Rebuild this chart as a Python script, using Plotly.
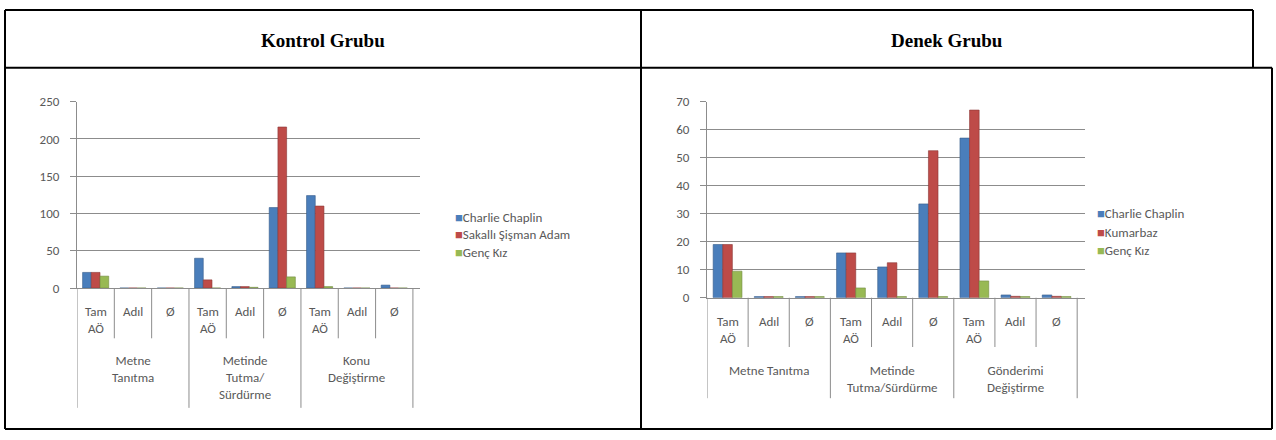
import plotly.graph_objects as go

# ---------------- data ----------------
subcats = ["Tam<br>AÖ", "Adıl", "Ø"]
groups_k = ["Metne<br>Tanıtma", "Metinde<br>Tutma/<br>Sürdürme", "Konu<br>Değiştirme"]
groups_d = ["Metne Tanıtma", "Metinde<br>Tutma/Sürdürme", "Gönderimi<br>Değiştirme"]

series_k = ["Charlie Chaplin", "Sakallı Şişman Adam", "Genç Kız"]
series_d = ["Charlie Chaplin", "Kumarbaz", "Genç Kız"]

k_cc = [21, 0, 0, 40, 2, 108, 124, 0, 4]
k_ssa = [21, 0, 0, 11, 2, 216, 110, 0, 0]
k_gk = [16, 0, 0, 0, 1, 15, 2, 0, 0]

d_cc = [19, 0.4, 0.4, 16, 11, 33.5, 57, 1, 1]
d_kb = [19, 0.4, 0.4, 16, 12.5, 52.5, 67, 0.5, 0.5]
d_gk = [9.5, 0.4, 0.4, 3.5, 0.4, 0.4, 6, 0.4, 0.4]

titles = ["Kontrol Grubu", "Denek Grubu"]
y_ranges = [[0, 250], [0, 70]]
y_dticks = [50, 10]

colors = ["#4A7EBB", "#BE4B48", "#98B954"]
edge = ["#385D8A", "#8C3836", "#71893F"]

W, H = 1276, 440
def PX(p):
    return p / W
def PY(p):
    return 1 - p / H

FONT = "Carlito, Calibri, Lato, sans-serif"
TXT = "#595959"
GRID = "#8c8c8c"

fig = go.Figure()

xpos = list(range(len(groups_k) * len(subcats)))

for vals_list, names, xa, ya in [([k_cc, k_ssa, k_gk], series_k, "x", "y"),
                                 ([d_cc, d_kb, d_gk], series_d, "x2", "y2")]:
    for vals, name, c, e in zip(vals_list, names, colors, edge):
        fig.add_trace(go.Bar(x=xpos, y=vals, name=name, marker_color=c,
                             marker_line=dict(color=e, width=0.6),
                             xaxis=xa, yaxis=ya, showlegend=False))

# geometry (pixels)
charts = [
    dict(xd=(77, 420), yd=(291, 98), inner_top=305, outer_top=356,
         short_end=343, long_end=415, legend_x=453, legend_y=[218, 236, 254],
         groups=groups_k, names=series_k, xref="x"),
    dict(xd=(707, 1085), yd=(301, 98), inner_top=316, outer_top=367,
         short_end=352, long_end=405, legend_x=1095, legend_y=[214, 233, 252],
         groups=groups_d, names=series_d, xref="x2"),
]

layout_axes = {}
shapes = []
annotations = []
for i, ch in enumerate(charts):
    sfx = "" if i == 0 else "2"
    layout_axes["xaxis" + sfx] = dict(
        domain=[PX(ch["xd"][0]), PX(ch["xd"][1])], range=[-0.5, 8.69],
        showgrid=False, zeroline=False, showticklabels=False, ticks="",
        showline=True, linecolor=GRID, linewidth=1, anchor="y" + sfx, fixedrange=True)
    layout_axes["yaxis" + sfx] = dict(
        domain=[PY(ch["yd"][0]), PY(ch["yd"][1])], range=y_ranges[i], dtick=y_dticks[i],
        showgrid=True, gridcolor=GRID, gridwidth=1, zeroline=False,
        showline=True, linecolor=GRID, linewidth=1, ticks="outside", ticklen=6,
        tickcolor=GRID, ticklabelstandoff=8,
        tickfont=dict(family=FONT, size=13, color=TXT), anchor="x" + sfx, fixedrange=True)
    # category separators
    n = len(xpos)
    for k in range(n + 1):
        long = k % len(subcats) == 0
        shapes.append(dict(type="line", xref=ch["xref"], yref="paper",
                           x0=k - 0.5, x1=k - 0.5,
                           y0=PY(ch["yd"][0]), y1=PY(ch["long_end"] if long else ch["short_end"]),
                           line=dict(color=GRID, width=1)))
    for k in range(n):
        annotations.append(dict(x=k, xref=ch["xref"], y=PY(ch["inner_top"]), yref="paper",
                                text=subcats[k % len(subcats)], showarrow=False,
                                yanchor="top", xanchor="center",
                                font=dict(family=FONT, size=13, color=TXT)))
    for g, gname in enumerate(ch["groups"]):
        annotations.append(dict(x=g * len(subcats) + 1, xref=ch["xref"], y=PY(ch["outer_top"]),
                                yref="paper", text=gname, showarrow=False,
                                yanchor="top", xanchor="center",
                                font=dict(family=FONT, size=13, color=TXT)))
    for name, c, ly in zip(ch["names"], colors, ch["legend_y"]):
        annotations.append(dict(x=PX(ch["legend_x"]), xref="paper", y=PY(ly), yref="paper",
                                text=f'<span style="color:{c}">■</span>{name}',
                                showarrow=False, xanchor="left", yanchor="middle",
                                font=dict(family=FONT, size=13, color=TXT)))

# table borders
def seg(x0, y0, x1, y1):
    return dict(type="line", xref="paper", yref="paper", x0=PX(x0), y0=PY(y0),
                x1=PX(x1), y1=PY(y1), line=dict(color="black", width=2))

shapes += [seg(5, 3, 1253, 3), seg(1253, 3, 1253, 63), seg(5, 63, 1272, 63),
           seg(1272, 63, 1272, 437), seg(5, 437, 1272, 437), seg(5, 3, 5, 437),
           seg(641, 3, 641, 437)]

for t, cx in zip(titles, [323, 947]):
    annotations.append(dict(x=PX(cx), y=PY(35), xref="paper", yref="paper",
                            text=f"<b>{t}</b>", showarrow=False,
                            xanchor="center", yanchor="middle",
                            font=dict(family="Liberation Serif, Times New Roman, serif",
                                      size=19, color="black")))

fig.update_layout(
    width=W, height=H, margin=dict(l=0, r=0, t=0, b=0),
    paper_bgcolor="white", plot_bgcolor="white",
    barmode="group", bargap=0.3, bargroupgap=0,
    showlegend=False, shapes=shapes, annotations=annotations,
    **layout_axes,
)

fig.write_html("out.html", config={"displayModeBar": False})
